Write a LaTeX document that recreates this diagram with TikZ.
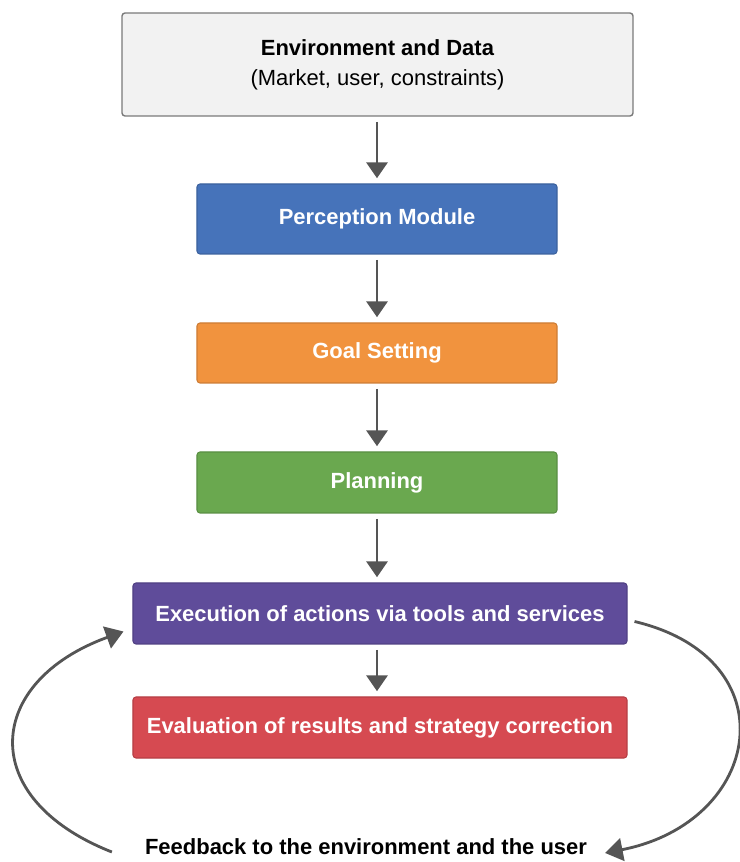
\documentclass[tikz,border=0pt]{standalone}
\usepackage{fontspec}
\setmainfont{Liberation Sans}
\usepackage{tikz}
\usetikzlibrary{arrows.meta}

\definecolor{envfill}{HTML}{F2F2F2}
\definecolor{envline}{HTML}{7A7A7A}
\definecolor{percblue}{HTML}{4673BA}
\definecolor{goalorange}{HTML}{F1933E}
\definecolor{planGreen}{HTML}{6AA84F}
\definecolor{execpurple}{HTML}{5F4C9A}
\definecolor{evalred}{HTML}{D64A51}
\definecolor{arrowgray}{HTML}{555555}

\begin{document}
\begin{tikzpicture}[x=0.2mm, y=0.2mm,
		block/.style={rectangle, rounded corners=0.6mm, draw=#1!85!black, fill=#1, text=white, line width=0.6pt,
			font=\bfseries\fontsize{12.5}{15}\selectfont, minimum height=12.2mm},
		flow/.style={draw=arrowgray, line width=1.5pt, -{Triangle[width=12pt,length=9pt]}, shorten <=3pt, shorten >=3pt},
		loop/.style={draw=arrowgray, line width=1.6pt, -{Triangle[width=13pt,length=10pt]}}]
		\useasboundingbox (0,0) rectangle (740,862);

		% main chain, top to bottom
		\node[rectangle, rounded corners=0.6mm, draw=envline, fill=envfill, line width=0.8pt, align=center,
			minimum width=102.2mm, minimum height=20.6mm, font=\fontsize{12.5}{15}\selectfont] (env) at (377.5,797.5)
			{\textbf{Environment and Data}\\[2pt](Market, user, constraints)};
		\node[block=percblue, minimum width=72mm, minimum height=14mm] (perc) at (377,643) {Perception Module};
		\node[block=goalorange, minimum width=72mm, minimum height=12mm] (goal) at (377,509) {Goal Setting};
		\node[block=planGreen, minimum width=72mm] (plan) at (377,379.5) {Planning};
		\node[block=execpurple, minimum width=98.8mm] (exec) at (380,248.5) {Execution of actions via tools and services};
		\node[block=evalred, minimum width=98.8mm] (eval) at (380,134.5) {Evaluation of results and strategy correction};
		\node[font=\bfseries\fontsize{12.5}{15}\selectfont] (fb) at (366,15) {Feedback to the environment and the user};

		\draw[flow] (env.south -| perc) -- (perc.north);
		\draw[flow] (perc) -- (goal);
		\draw[flow] (goal) -- (plan);
		\draw[flow] (plan.south) -- (plan.south |- exec.north);
		\draw[flow] (exec.south -| plan) -- (eval.north -| plan);

		% feedback loop round the two lower blocks
		\draw[loop] ([shift={(-27,-5)}]fb.west) .. controls +(-137,54) and +(-138,-50) .. ([shift={(-9,-18)}]exec.west);
		\draw[loop] ([shift={(7,-8)}]exec.east) .. controls +(156,-37) and +(158,31) .. ([shift={(12,-6)}]fb.east);
	\end{tikzpicture}
\end{document}
